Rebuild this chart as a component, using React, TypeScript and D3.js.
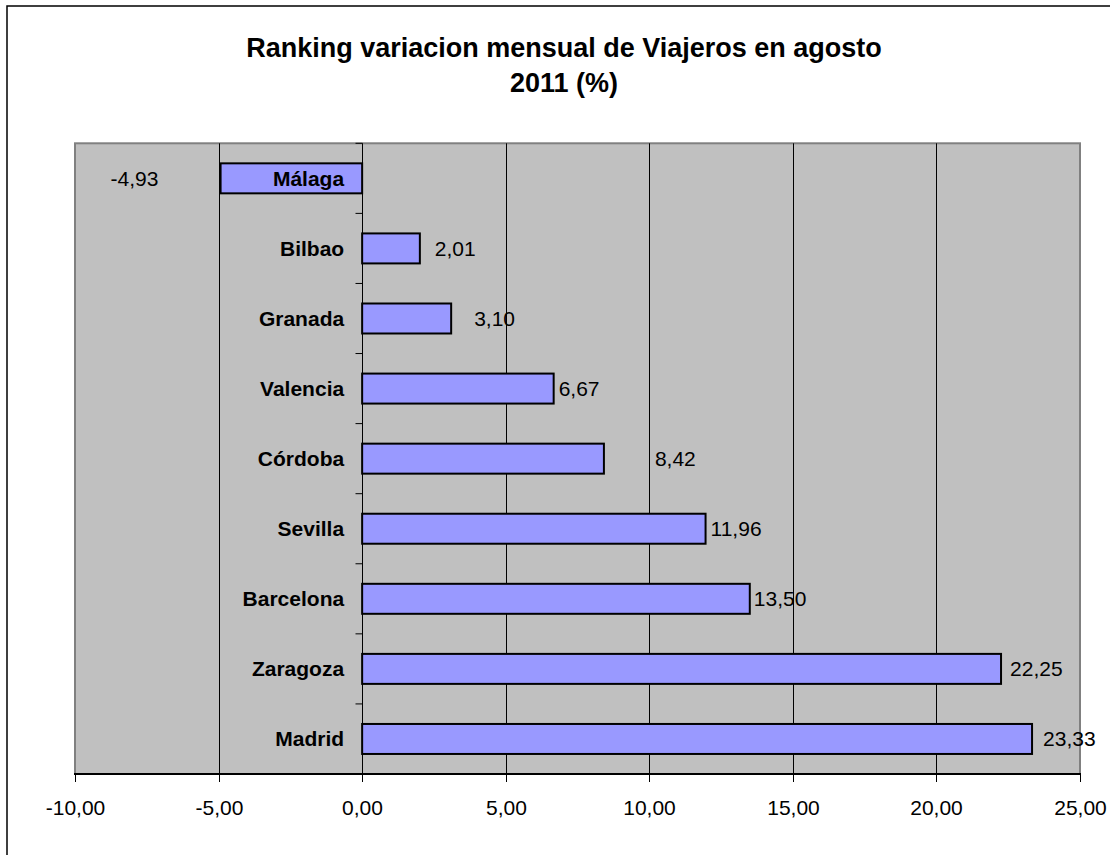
import React, { useEffect, useRef } from 'react';
import * as d3 from 'd3';

// Cities, ranked as in the chart (top to bottom)
const cities = ['Málaga', 'Bilbao', 'Granada', 'Valencia', 'Córdoba', 'Sevilla', 'Barcelona', 'Zaragoza', 'Madrid'];
// Monthly variation of travellers, August 2011 (%)
const variation = [-4.93, 2.01, 3.1, 6.67, 8.42, 11.96, 13.5, 22.25, 23.33];
// Value axis ticks
const xTicks = [-10, -5, 0, 5, 10, 15, 20, 25];
// Manual shift of each value label from the bar end (px), as in the original sheet
const labelShift = [-110, 15, 23, 5, 51, 5, 4, 9, 11];

const titleLines = ['Ranking variacion mensual de Viajeros en agosto', '2011 (%)'];

const fmt = (v: number) => v.toFixed(2).replace('.', ',');

const App = () => {
    const svgRef = useRef<SVGSVGElement>(null);

    useEffect(() => {
        const width = 1110;
        const height = 855;
        const font = '"Liberation Sans", Arial, sans-serif';

        // Plot area box
        const left = 75, right = 1080, top = 143.3, bottom = 774;

        const svg = d3.select(svgRef.current);
        svg.selectAll('*').remove();
        svg.attr('width', width).attr('height', height);

        // White background and chart border (runs off the page on right and bottom)
        svg.append('rect').attr('width', width).attr('height', height).attr('fill', '#fff');
        svg.append('rect')
            .attr('x', 7).attr('y', 6)
            .attr('width', 1140).attr('height', 900)
            .attr('fill', 'none').attr('stroke', '#000').attr('stroke-width', 1.5);

        // Title
        svg.append('g').selectAll('text')
            .data(titleLines)
            .enter()
            .append('text')
            .attr('x', 564)
            .attr('y', (d, i) => 57 + i * 35)
            .attr('text-anchor', 'middle')
            .attr('font-family', font)
            .attr('font-weight', 'bold')
            .attr('font-size', '27px')
            .attr('fill', '#000')
            .text(d => d);

        const x = d3.scaleLinear().domain([-10, 25]).range([left, right]);
        const y = d3.scaleBand<string>()
            .domain(cities)
            .range([top, bottom])
            .paddingInner(0.572)
            .paddingOuter(0.286);
        const step = y.step();

        // Gray plot area
        svg.append('rect')
            .attr('x', left).attr('y', top)
            .attr('width', right - left).attr('height', bottom - top)
            .attr('fill', '#c0c0c0')
            .attr('stroke', '#808080')
            .attr('stroke-width', 2);

        // Vertical gridlines
        svg.append('g').selectAll('line')
            .data(xTicks.filter(t => t !== -10 && t !== 25 && t !== 0))
            .enter()
            .append('line')
            .attr('x1', d => Math.round(x(d)) + 0.5).attr('x2', d => Math.round(x(d)) + 0.5)
            .attr('y1', top).attr('y2', bottom)
            .attr('stroke', '#000').attr('stroke-width', 1);

        // Bars
        svg.append('g').selectAll('rect')
            .data(variation)
            .enter()
            .append('rect')
            .attr('x', d => x(Math.min(0, d)))
            .attr('y', (d, i) => y(cities[i])!)
            .attr('width', d => Math.abs(x(d) - x(0)))
            .attr('height', y.bandwidth())
            .attr('fill', '#9999ff')
            .attr('stroke', '#000')
            .attr('stroke-width', 2);

        // Category axis at zero, with ticks between categories
        const x0 = Math.round(x(0)) + 0.5;
        svg.append('line')
            .attr('x1', x0).attr('x2', x0)
            .attr('y1', top).attr('y2', bottom)
            .attr('stroke', '#000').attr('stroke-width', 1);
        svg.append('g').selectAll('line')
            .data(d3.range(cities.length + 1))
            .enter()
            .append('line')
            .attr('x1', x0 - 7).attr('x2', x0)
            .attr('y1', d => top + d * step).attr('y2', d => top + d * step)
            .attr('stroke', '#000').attr('stroke-width', 1);

        // Category labels
        svg.append('g').selectAll('text')
            .data(cities)
            .enter()
            .append('text')
            .attr('x', x(0) - 18)
            .attr('y', d => y(d)! + y.bandwidth() / 2 + 7.5)
            .attr('text-anchor', 'end')
            .attr('font-family', font)
            .attr('font-weight', 'bold')
            .attr('font-size', '21px')
            .attr('fill', '#000')
            .text(d => d);

        // Value labels
        svg.append('g').selectAll('text')
            .data(variation)
            .enter()
            .append('text')
            .attr('x', (d, i) => x(d) + labelShift[i])
            .attr('y', (d, i) => y(cities[i])! + y.bandwidth() / 2 + 7.5)
            .attr('font-family', font)
            .attr('font-size', '21px')
            .attr('fill', '#000')
            .text(d => fmt(d));

        // Bottom value axis
        svg.append('line')
            .attr('x1', left - 1).attr('x2', right + 1)
            .attr('y1', bottom).attr('y2', bottom)
            .attr('stroke', '#000').attr('stroke-width', 2);
        const ticks = svg.append('g').selectAll('g')
            .data(xTicks)
            .enter()
            .append('g')
            .attr('transform', d => `translate(${Math.round(x(d)) + 0.5},0)`);
        ticks.append('line')
            .attr('y1', bottom).attr('y2', bottom + 8)
            .attr('stroke', '#000').attr('stroke-width', 1);
        ticks.append('text')
            .attr('y', bottom + 41)
            .attr('text-anchor', 'middle')
            .attr('font-family', font)
            .attr('font-size', '21px')
            .attr('fill', '#000')
            .text(d => fmt(d));
    }, []);

    return (
        <svg ref={svgRef} style={{ position: 'absolute', left: 0, top: 0, display: 'block' }}></svg>
    );
};

export default App;
